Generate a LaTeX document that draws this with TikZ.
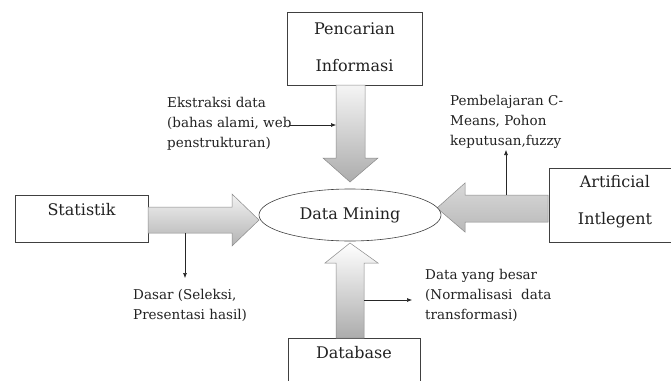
\documentclass[tikz,border=0pt]{standalone}
\usepackage{fontspec}
\setmainfont{DejaVu Serif}
\usetikzlibrary{shapes.geometric,arrows.meta}
\definecolor{txt}{HTML}{222222}
\definecolor{edge}{HTML}{8A8A8A}
\begin{document}
\begin{tikzpicture}[x=1pt,y=-1pt,
  box/.style={draw=black!75,line width=0.6pt,fill=white,inner sep=0pt},
  lbl/.style={text=txt,font=\fontsize{16}{37}\selectfont,align=center,inner sep=0pt},
  note/.style={text=txt,font=\fontsize{13.5}{20}\selectfont,align=left,inner sep=0pt,anchor=base west},
  fat/.style={draw=edge,line width=0.5pt},
  thin/.style={draw=black!85,line width=0.6pt,-{Latex[length=5pt,width=4pt]}}]
\useasboundingbox[fill=white] (0,0) rectangle (671,380);

% boxes
\node[box,minimum width=135pt,minimum height=73pt] (pen) at (354.5,48.5) {};
\node[lbl] (penl) at (354.5,47) {Pencarian\\Informasi};
\node[box,minimum width=133pt,minimum height=47pt] (stat) at (81.5,218.5) {};
\node[lbl] (statl) at (81.5,210) {Statistik};
\node[box,minimum width=130pt,minimum height=74pt] (ai) at (614,205) {};
\node[lbl] (ail) at (615,201.5) {Artificial\\Intlegent};
\node[box,minimum width=132pt,minimum height=60pt] (db) at (354,368) {};
\node[lbl] (dbl) at (354,353) {Database};

% fat arrows
\shade[fat,top color=gray!8,bottom color=gray!65]
  (336,85) -- (336,158) -- (323,158) -- (350,182) -- (378,158) -- (365,158) -- (365,85) -- cycle;
\shade[fat,top color=gray!10,bottom color=gray!60]
  (148,207) -- (232,207) -- (232,194) -- (259,220) -- (232,246) -- (232,233) -- (148,233) -- cycle;
\shade[fat,top color=gray!30,middle color=gray!8,bottom color=gray!55]
  (548,195) -- (465,195) -- (465,183) -- (437,208) -- (465,232) -- (465,222) -- (548,222) -- cycle;
\shade[fat,top color=white,bottom color=gray!65]
  (336,338) -- (336,263) -- (325,263) -- (350,243) -- (378,263) -- (364,263) -- (364,338) -- cycle;

% center
\node[draw=black!75,line width=0.6pt,ellipse,fill=white,minimum width=182pt,minimum height=52pt,inner sep=0pt,
  text=txt,font=\fontsize{16}{20}\selectfont] (dm) at (350,215) {Data Mining};

% notes (anchor = baseline of last line)
\node[note] (n1) at (167,147) {Ekstraksi data\\(bahas alami, web\\penstrukturan)};
\node[note] (n2) at (450,145) {Pembelajaran C-\\Means, Pohon\\keputusan,fuzzy};
\node[note] (n3) at (133,319) {Dasar (Seleksi,\\Presentasi hasil)};
\node[note] (n4) at (425,319) {Data yang besar\\(Normalisasi\ \ data\\transformasi)};

% thin arrows
\coordinate (a1s) at (290,125);
\coordinate (a1e) at (336,125);
\draw[thin] (a1s) -- (a1e);
\coordinate (a2s) at (185,233);
\coordinate (a2e) at (185,278);
\draw[thin] (a2s) -- (a2e);
\coordinate (a3s) at (506,195);
\coordinate (a3e) at (506,150);
\draw[thin] (a3s) -- (a3e);
\coordinate (a4s) at (364,300);
\coordinate (a4e) at (412,300);
\draw[thin] (a4s) -- (a4e);
\end{tikzpicture}
\end{document}
